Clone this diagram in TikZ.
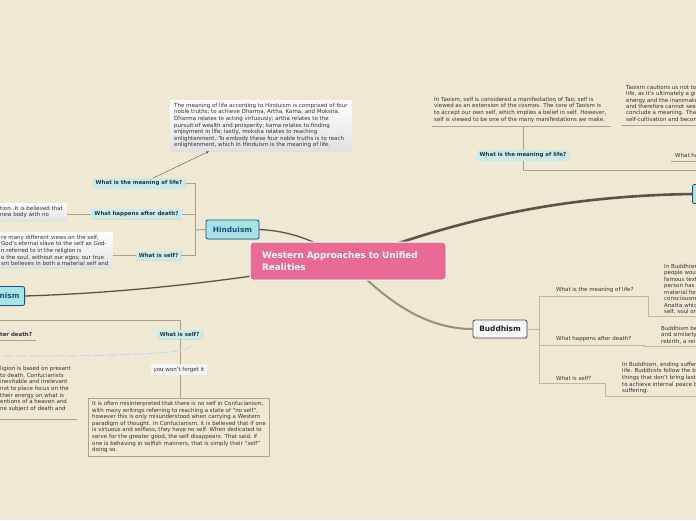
\documentclass[tikz,border=0pt]{standalone}
\usepackage{fontspec}
\setmainfont{DejaVu Sans}
\usetikzlibrary{backgrounds,shadows}
\definecolor{paper}{RGB}{239,233,211}
\definecolor{branchline}{RGB}{172,163,140}
\definecolor{budline}{RGB}{184,191,150}
\definecolor{darkline}{RGB}{88,84,74}
\definecolor{greenline}{RGB}{142,152,104}
\definecolor{topicfill}{RGB}{166,228,230}
\definecolor{topicedge}{RGB}{36,76,128}
\definecolor{qfill}{RGB}{200,236,236}
\definecolor{hubpink}{RGB}{233,106,148}
\definecolor{inktext}{RGB}{50,50,50}
\definecolor{dashline}{RGB}{200,220,232}
\begin{document}
\begin{tikzpicture}[x=1pt,y=-1pt,
    arrow/.style = {thin,-stealth,draw=darkline},
    branch/.style = {draw=branchline, line width=0.9pt},
    bbranch/.style = {draw=budline, line width=0.9pt},
    hub/.style = {fill=hubpink, draw=white, line width=1pt, rounded corners=3pt, text=white,
                  font=\fontsize{8.9}{12}\selectfont\bfseries, align=left,
                  minimum width=196pt, minimum height=38pt, text width=172pt},
    topic/.style = {draw=topicedge, fill=topicfill, rounded corners=2pt, line width=0.8pt, text=topicedge,
                    font=\fontsize{7.4}{8}\selectfont\bfseries, minimum height=19pt, inner xsep=5pt,
                    drop shadow={opacity=0.25, shadow xshift=0.6pt, shadow yshift=-0.6pt}},
    question/.style = {fill=qfill, text=inktext, font=\fontsize{5.45}{6}\selectfont\bfseries,
                       inner xsep=3pt, inner ysep=2.5pt,
                       drop shadow={opacity=0.15, shadow xshift=0.5pt, shadow yshift=-0.5pt}},
    note/.style = {align=left, text=inktext, font=\fontsize{5.5}{6.6}\selectfont, inner xsep=4pt, inner ysep=3pt},
    card/.style = {note, top color=white, bottom color=black!12},
    plain/.style = {align=left, text=inktext, font=\fontsize{5.5}{6.6}\selectfont, inner sep=0pt},
    dashlink/.style = {draw=dashline, line width=1.2pt, dash pattern=on 10pt off 3pt}]

    \useasboundingbox (0,0) rectangle (696,520);
    \begin{scope}[on background layer]
        \fill[paper] (0,0) rectangle (696,520);
    \end{scope}
    \clip (0,0) rectangle (696,520);

    % topics
    \node[hub] (hub) at (348,261) {Western Approaches to Unified\\Realities};
    \node[topic, minimum width=53pt] (hindu) at (232.5,229.5) {Hinduism};
    \node[topic, anchor=west, minimum width=50pt] (taoism) at (692,194) {Taoism};
    \node[topic, anchor=east] (confu) at (25,296) {Confucianism};
    \node[topic, draw=black!70, fill=black!3, text=black!85, minimum width=54pt, minimum height=18pt] (buddhism) at (500,329) {Buddhism};

    \begin{scope}[on background layer]
        \draw[darkline, line width=2.6pt] (hub.center) .. controls (470,215) and (570,196) .. (taoism.west);
        \draw[darkline, line width=1.3pt] (hindu.east) .. controls (290,231) and (315,240) .. (hub.center);
        \draw[darkline, line width=1.3pt] (confu.east) .. controls (120,293) and (220,283) .. (hub.center);
        \draw[greenline, line width=2pt] (hub.center) .. controls (385,300) and (425,329) .. (buddhism.west);
    \end{scope}

    % Hinduism
    \coordinate (hj) at (195,230);
    \node[question] (hmeanq) at (139,183.5) {What is the meaning of life?};
    \node[question] (hdeathq) at (136.5,214) {What happens after death?};
    \node[question] (hselfq) at (158.5,255.5) {What is self?};
    \node[card, anchor=north west] (hmean) at (170,100) {The meaning of life according to Hinduism is comprised of four\\noble truths; to achieve Dharma, Artha, Kama, and Moksha.\\Dharma relates to acting virtuously; artha relates to the\\pursuit of wealth and prosperity; kama relates to finding\\enjoyment in life; lastly, moksha relates to reaching\\enlightenment. To embody these four noble truths is to reach\\enlightenment, which in Hinduism is the meaning of life.};
    \node[card, anchor=north west] (hdeath) at (-4,203) {tion. It is believed that\\new body with no};
    \node[card, anchor=north west] (hself) at (-3,232) {re many different views on the self,\\God's eternal slave to the self as God-\\n referred to in the religion is\\o the soul, without our egos; our true\\sm believes in both a material self and};
    \draw[branch] (hindu.west) -- (hj);
    \draw[branch] (hmeanq.east) -| (hj);
    \draw[branch] (hdeathq.east) -| (hj);
    \draw[branch] (hselfq.east) -| (hj);
    \draw[branch] (hdeath.east |- hdeathq.west) -- (hdeathq.west);
    \draw[branch] (hself.east |- hselfq.west) -- (hselfq.west);
    \draw[arrow] ([xshift=14pt]hmeanq.north) -- ([xshift=39pt]hmean.south west);

    % Taoism
    \coordinate (tup) at (523,126);
    \coordinate (tj) at (523,170);
    \coordinate (tend) at (710,170);
    \draw[branch] (tup) -- (tj) -- (tend);
    \node[question] (tmeanq) at (523,155.5) {What is the meaning of life?};
    \node[plain, anchor=north west] (tself) at (434,97) {In Taoism, self is considered a manifestation of Tao; self is\\viewed as an extension of the cosmos. The core of Taoism is\\to accept our own self, which implies a belief in self. However,\\self is viewed to be one of the many manifestations we make.};
    \node[plain, anchor=north west, font=\fontsize{5.5}{6.4}\selectfont] (tmean) at (626,85) {Taoism cautions us not to\\life, as it's ultimately a gi\\energy and the inanimate\\and therefore cannot see\\conclude a meaning. That\\self-cultivation and becom};
    \node[plain, anchor=south west] (tdeathq) at (675,158) {What ha};
    \draw[branch] ([shift={(-2pt,-4pt)}]tself.south west) -- ([shift={(4pt,-4pt)}]tself.south east);
    \draw[branch] ([shift={(-5pt,-4pt)}]tmean.south west) -- ([shift={(12pt,-4pt)}]tmean.south east);
    \draw[branch] ([shift={(-4pt,-3pt)}]tdeathq.south west) -- ([shift={(8pt,-3pt)}]tdeathq.south east);

    % Buddhism
    \coordinate (bj) at (539,329);
    \coordinate (b1) at (648,296);
    \coordinate (b2) at (644,345);
    \coordinate (b3) at (605,383);
    \node[plain, anchor=south west] (bmeanq) at (556,293) {What is the meaning of life?};
    \node[plain, anchor=south west] (bdeathq) at (556,342) {What happens after death?};
    \node[plain, anchor=south west] (bselfq) at (556,380.5) {What is self?};
    \node[plain, anchor=north west, font=\fontsize{5.5}{6.5}\selectfont] (bmean) at (664,264) {In Buddhism\\people wou\\famous text\\person has\\material for\\consciousne\\Anatta whic\\self, soul or};
    \node[plain, anchor=north west] (bdeath) at (661,326) {Buddhism be\\and similarly\\rebirth, a rei};
    \node[plain, anchor=north west] (bself) at (622,362) {In Buddhism, ending suffer\\life. Buddhists follow the b\\things that don't bring last\\to achieve internal peace b\\suffering.};
    \draw[bbranch] (buddhism.east) -- (bj);
    \draw[bbranch] (bj) |- (b1) |- ([shift={(6pt,-2pt)}]bmean.south east);
    \draw[bbranch] (bj) |- (b2) |- ([shift={(6pt,-2pt)}]bdeath.south east);
    \draw[bbranch] (bj) |- (b3) |- ([shift={(6pt,-2pt)}]bself.south east);

    % Confucianism
    \coordinate (cj) at (180,320);
    \coordinate (cw) at (-10,320);
    \coordinate (cd) at (-10,356);
    \node[note, draw=branchline, line width=0.8pt, anchor=north] (cnote) at (179,398) {It is often misinterpreted that there is no self in Confucianism,\\with many writings referring to reaching a state of ``no self'',\\however this is only misunderstood when carrying a Western\\paradigm of thought. In Confucianism, it is believed that if one\\is virtuous and selfless, they have no self. When dedicated to\\serve for the greater good, the self disappears. That said, if\\one is behaving in selfish manners, that is simply their ``self''\\doing so.};
    \draw[branch] (cw) -- (cj) -- (cj |- cnote.north);
    \node[question] (cselfq) at (179.5,334.5) {What is self?};
    \node[fill=black!4, text=inktext, font=\fontsize{5.5}{6}\selectfont, inner sep=2.5pt] (cforget) at (179,369.5) {you won't forget it};
    \node[anchor=south west, text=inktext, font=\fontsize{5.45}{6}\selectfont\bfseries, inner sep=0pt] (cdeathq) at (0,337) {ter death?};
    \node[plain, anchor=north west, font=\fontsize{5.5}{6.7}\selectfont] (cdeath) at (0,366) {ligion is based on present\\to death, Confucianists\\inevitable and irrelevant\\not to place focus on the\\their energy on what is\\entions of a heaven and\\ne subject of death and};
    \draw[branch] ([shift={(-5pt,-3pt)}]cdeathq.south west) -- ([shift={(4pt,-3pt)}]cdeathq.south east);
    \draw[branch] ([shift={(-5pt,-8pt)}]cdeath.south west) -- ([shift={(6pt,-8pt)}]cdeath.south east);
    \draw[dashlink] (cd) .. controls (150,356) and (205,354) .. ([xshift=-12pt]cselfq.south east);

\end{tikzpicture}
\end{document}
